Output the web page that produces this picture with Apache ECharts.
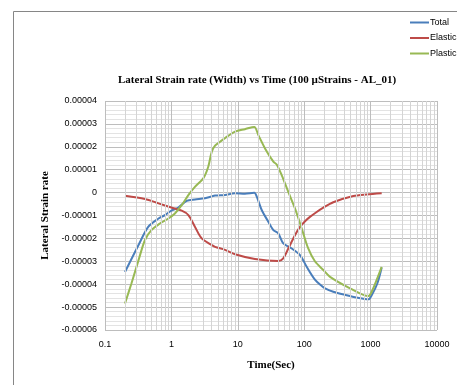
<!DOCTYPE html>
<html><head><meta charset="utf-8">
<script src="https://cdn.jsdelivr.net/npm/echarts@6/dist/echarts.min.js"></script>
<style>html,body{margin:0;padding:0;background:#fff}#c{width:457px;height:385px}</style>
</head><body><div id="c"></div>
<script>
const xTickLabels = ['0.1','1','10','100','1000','10000'];
const yTickLabels = ['0.00004','0.00003','0.00002','0.00001','0','-0.00001','-0.00002','-0.00003','-0.00004','-0.00005','-0.00006'];

const totalTime = [0.2, 0.32, 0.45, 0.64, 0.8, 1.0, 1.27, 1.7, 2.26, 3.2, 4.54, 6.42, 9.08, 12.8, 17.7, 19.3, 22.9, 28.8, 34.3, 40.7, 48.4, 64.8, 86.4, 109, 145, 184, 206, 274, 436, 618, 923, 1039, 1262, 1469];
const totalVal = [-3.47e-5, -2.29e-5, -1.49e-5, -1.13e-5, -0.98e-5, -0.79e-5, -0.65e-5, -0.36e-5, -0.30e-5, -0.25e-5, -0.13e-5, -0.10e-5, -0.03e-5, -0.05e-5, -0.01e-5, -0.18e-5, -0.76e-5, -1.27e-5, -1.64e-5, -1.78e-5, -2.22e-5, -2.44e-5, -2.73e-5, -3.24e-5, -3.8e-5, -4.08e-5, -4.18e-5, -4.33e-5, -4.48e-5, -4.58e-5, -4.66e-5, -4.48e-5, -3.97e-5, -3.27e-5];

const elasticTime = [0.2, 0.4, 0.64, 1.0, 1.43, 1.8, 2.26, 2.86, 4.05, 4.54, 6.42, 9.08, 18.1, 40.7, 48.4, 57.6, 72.6, 86.4, 103, 122, 145, 194, 274, 549, 873, 1469];
const elasticVal = [-0.14e-5, -0.28e-5, -0.47e-5, -0.65e-5, -0.79e-5, -0.98e-5, -1.49e-5, -2.0e-5, -2.29e-5, -2.37e-5, -2.5e-5, -2.69e-5, -2.90e-5, -2.99e-5, -2.87e-5, -2.44e-5, -1.86e-5, -1.5e-5, -1.25e-5, -1.06e-5, -0.9e-5, -0.66e-5, -0.42e-5, -0.15e-5, -0.08e-5, -0.03e-5];

const plasticTime = [0.2, 0.25, 0.32, 0.4, 0.5, 0.67, 0.9, 1.13, 1.43, 1.8, 2.26, 3.02, 3.59, 4.05, 4.54, 5.4, 6.42, 9.08, 12.8, 17.7, 20.4, 25.7, 34.3, 38.5, 45.8, 57.6, 72.6, 91.6, 115, 145, 194, 245, 490, 923, 1039, 1469];
const plasticVal = [-4.84e-5, -3.97e-5, -2.95e-5, -2.07e-5, -1.64e-5, -1.35e-5, -1.13e-5, -0.91e-5, -0.55e-5, -0.11e-5, 0.25e-5, 0.62e-5, 1.13e-5, 1.78e-5, 2.05e-5, 2.22e-5, 2.38e-5, 2.66e-5, 2.77e-5, 2.87e-5, 2.51e-5, 1.93e-5, 1.35e-5, 1.23e-5, 0.76e-5, 0.03e-5, -0.69e-5, -1.56e-5, -2.44e-5, -3.0e-5, -3.38e-5, -3.68e-5, -4.18e-5, -4.52e-5, -4.33e-5, -3.24e-5];

const zip = (a, b) => a.map((t, i) => [t, b[i]]);

// vertical minor gridlines at 2..9 of each decade
const minorX = [];
[0.1, 1, 10, 100, 1000].forEach(d => { for (let k = 2; k <= 9; k++) minorX.push({xAxis: +(d * k).toPrecision(3)}); });

const chart = echarts.init(document.getElementById('c'), null, {renderer: 'canvas'});
const lblFont = '"Liberation Sans Narrow", "Liberation Sans", Arial, sans-serif';
const serif = '"Liberation Serif", "Times New Roman", serif';
chart.setOption({
  animation: false,
  graphic: [{type: 'rect', left: 11, top: 9, shape: {width: 600, height: 600}, style: {fill: 'none', stroke: '#868686', lineWidth: 1}, z: -1}],
  title: {text: 'Lateral Strain rate (Width) vs Time (100 µStrains - AL_01)', left: 118, top: 75, padding: 0,
    textStyle: {fontFamily: serif, fontWeight: 'bold', fontSize: 11, color: '#000'}},
  legend: {orient: 'vertical', left: 410, top: 18, padding: 0, itemGap: 6.5, itemWidth: 19, itemHeight: 2, icon: 'rect',
    textStyle: {fontFamily: lblFont, fontSize: 9, color: '#000', padding: [0,0,0,-4]},
    data: ['Total', 'Elastic', 'Plastic']},
  grid: {left: 105, right: 20, top: 101, bottom: 55},
  xAxis: {type: 'log', logBase: 10, min: 0.1, max: 10000,
    name: 'Time(Sec)', nameLocation: 'middle', nameGap: 30,
    nameTextStyle: {fontFamily: serif, fontWeight: 'bold', fontSize: 11, color: '#000'},
    axisLine: {show: false}, axisTick: {show: false},
    axisLabel: {fontFamily: lblFont, fontSize: 9, color: '#000', margin: 10,
      formatter: v => xTickLabels[Math.round(Math.log10(v)) + 1]},
    splitLine: {show: true, lineStyle: {color: '#bdbdbd', width: 1}}},
  yAxis: {type: 'value', min: -6e-5, max: 4e-5, interval: 1e-5,
    name: 'Lateral Strain rate', nameLocation: 'middle', nameGap: 48, nameRotate: 90,
    nameTextStyle: {fontFamily: serif, fontWeight: 'bold', fontSize: 11, color: '#000'},
    axisLine: {show: false}, axisTick: {show: false},
    axisLabel: {fontFamily: lblFont, fontSize: 9, color: '#000', margin: 8,
      formatter: v => yTickLabels[Math.round((4e-5 - v) / 1e-5)]},
    splitLine: {show: true, lineStyle: {color: '#bdbdbd', width: 1}},
    minorTick: {show: false, splitNumber: 5},
    minorSplitLine: {show: true, lineStyle: {color: '#e3e3e3', width: 1}}},
  series: [
    {name: 'Total', type: 'line', data: zip(totalTime, totalVal), showSymbol: false, smooth: 0.3,
      lineStyle: {color: '#4a7ebb', width: 2}, itemStyle: {color: '#4a7ebb'}, z: 3,
      markLine: {silent: true, symbol: 'none', label: {show: false}, animation: false,
        lineStyle: {color: '#d4d4d4', width: 1, type: 'solid'}, data: minorX}},
    {name: 'Elastic', type: 'line', data: zip(elasticTime, elasticVal), showSymbol: false, smooth: 0.3,
      lineStyle: {color: '#be4b48', width: 2}, itemStyle: {color: '#be4b48'}, z: 3},
    {name: 'Plastic', type: 'line', data: zip(plasticTime, plasticVal), showSymbol: false, smooth: 0.3,
      lineStyle: {color: '#98b954', width: 2}, itemStyle: {color: '#98b954'}, z: 3}
  ]
});
</script></body></html>
